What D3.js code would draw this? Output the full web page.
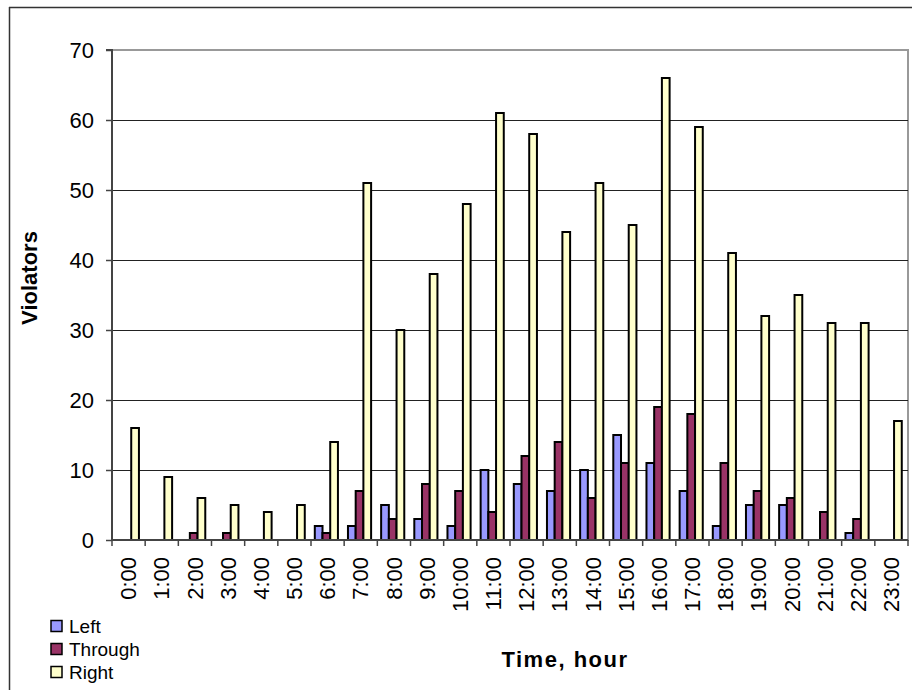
<!DOCTYPE html>
<html><head><meta charset="utf-8">
<script src="https://cdn.jsdelivr.net/npm/d3@7"></script>
<style>body{margin:0;background:#fff}svg{display:block;font-family:"Liberation Sans",Arial,sans-serif}</style>
</head><body><svg id="c" width="917" height="690"></svg>
<script>
const hours = ["0:00","1:00","2:00","3:00","4:00","5:00","6:00","7:00","8:00","9:00","10:00","11:00","12:00","13:00","14:00","15:00","16:00","17:00","18:00","19:00","20:00","21:00","22:00","23:00"];
const leftVals    = [0,0,0,0,0,0,2,2,5,3,2,10,8,7,10,15,11,7,2,5,5,0,1,0];
const throughVals = [0,0,1,1,0,0,1,7,3,8,7,4,12,14,6,11,19,18,11,7,6,4,3,0];
const rightVals   = [16,9,6,5,4,5,14,51,30,38,48,61,58,44,51,45,66,59,41,32,35,31,31,17];
const seriesNames = ["Left","Through","Right"];
const seriesColors = ["#9999FF","#993366","#FFFFCC"];
const yTicks = [0,10,20,30,40,50,60,70];

const svg = d3.select("#c");
const L = 112, R = 908, T = 50, B = 540;

svg.append("line").attr("x1",9).attr("x2",912).attr("y1",7.5).attr("y2",7.5).attr("stroke","#333").attr("stroke-width",1.5);
svg.append("line").attr("x1",9.5).attr("x2",9.5).attr("y1",7).attr("y2",690).attr("stroke","#333").attr("stroke-width",1.5);

const y = d3.scaleLinear().domain([0,70]).range([B,T]);
const x0 = d3.scaleBand().domain(hours).range([L,R]).paddingInner(0).paddingOuter(0);
const cw = x0.bandwidth();
const bw = cw/(3+1.3);
const x1 = d3.scaleBand().domain(seriesNames).range([3.8, 3.8+3*bw]).padding(0);

svg.append("rect").attr("x",L).attr("y",T).attr("width",R-L).attr("height",B-T)
  .attr("fill","none").attr("stroke","#999").attr("stroke-width",2);

svg.append("g").selectAll("line").data(yTicks.filter(v=>v>0&&v<70)).join("line")
  .attr("x1",L).attr("x2",R).attr("y1",d=>Math.round(y(d))+0.5).attr("y2",d=>Math.round(y(d))+0.5)
  .attr("stroke","#222").attr("stroke-width",1);

const data = hours.map((h,i)=>({h, vals:[leftVals[i],throughVals[i],rightVals[i]]}));
const g = svg.append("g");
data.forEach(d=>{
  d.vals.forEach((v,j)=>{
    if(v<=0) return;
    g.append("rect")
      .attr("x", x0(d.h)+x1(seriesNames[j]))
      .attr("y", y(v))
      .attr("width", x1.bandwidth())
      .attr("height", y(0)-y(v))
      .attr("fill", seriesColors[j])
      .attr("stroke","#000").attr("stroke-width",2);
  });
});

const yAxis = d3.axisLeft(y).tickValues(yTicks).tickSize(6).tickPadding(12);
const ya = svg.append("g").attr("transform",`translate(${L},0)`).call(yAxis);
ya.select(".domain").attr("stroke","#444").attr("stroke-width",2).attr("d",`M-6,${T}H0V${B}`);
ya.selectAll(".tick line").attr("stroke","#444").attr("stroke-width",1.5);
ya.selectAll(".tick text").attr("font-size",22).attr("fill","#000").attr("font-family","Liberation Sans, Arial, sans-serif");

const xAxis = d3.axisBottom(x0).tickSize(0).tickPadding(0);
const xa = svg.append("g").attr("transform",`translate(0,${B})`).call(xAxis);
xa.select(".domain").attr("stroke","#444").attr("stroke-width",2).attr("d",`M${L},0H${R}`);
xa.selectAll(".tick text").attr("font-size",22).attr("fill","#000")
  .attr("font-family","Liberation Sans, Arial, sans-serif")
  .attr("text-anchor","end").attr("transform","translate(0,17) rotate(-90)")
  .attr("dy","0.35em").attr("y",0).attr("x",0);
svg.append("g").selectAll("line").data(d3.range(hours.length+1)).join("line")
  .attr("x1",i=>L+i*cw).attr("x2",i=>L+i*cw).attr("y1",B).attr("y2",B+6)
  .attr("stroke","#444").attr("stroke-width",1.5);

svg.append("text").attr("transform","translate(37,278) rotate(-90)").attr("text-anchor","middle")
  .attr("font-size",22).attr("font-weight","bold").text("Violators");
svg.append("text").attr("x",565).attr("y",667).attr("text-anchor","middle")
  .attr("font-size",22).attr("font-weight","bold").attr("letter-spacing",1.5).text("Time, hour");

const lg = svg.append("g");
seriesNames.forEach((n,i)=>{
  const cy = 626 + i*23;
  lg.append("rect").attr("x",51).attr("y",cy-5.5).attr("width",11).attr("height",11)
    .attr("fill",seriesColors[i]).attr("stroke","#000").attr("stroke-width",1.5);
  lg.append("text").attr("x",69).attr("y",cy).attr("dy","0.35em").attr("font-size",19).text(n);
});
</script></body></html>
